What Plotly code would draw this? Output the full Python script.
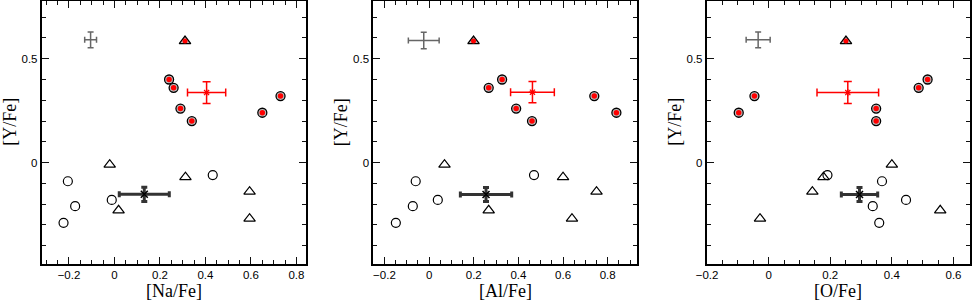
import plotly.graph_objects as go

# ---------------- data ----------------
# red stars : shared [Y/Fe]
red_circ_y = [0.40, 0.36, 0.26, 0.20, 0.24, 0.32]
red_circ_na = [0.24, 0.26, 0.29, 0.34, 0.65, 0.73]
red_circ_al = [0.327, 0.267, 0.39, 0.461, 0.839, 0.74]
red_circ_o = [0.516, 0.487, 0.349, 0.349, -0.097, -0.046]

red_tri_y = [0.585]
red_tri_na = [0.31]
red_tri_al = [0.199]
red_tri_o = [0.251]

open_circ_y = [-0.09, -0.21, -0.29, -0.18, -0.06]
open_circ_na = [-0.205, -0.173, -0.224, -0.012, 0.432]
open_circ_al = [-0.06, -0.073, -0.149, 0.039, 0.47]
open_circ_o = [0.368, 0.338, 0.359, 0.446, 0.191]

open_tri_y = [-0.01, -0.23, -0.07, -0.14, -0.27]
open_tri_na = [-0.021, 0.018, 0.312, 0.594, 0.594]
open_tri_al = [0.069, 0.267, 0.6, 0.75, 0.64]
open_tri_o = [0.4, 0.557, 0.178, 0.142, -0.028]

# mean / error crosses: [x, y, ex, ey]
red_mean = {"na": [0.405, 0.337, 0.084, 0.052],
            "al": [0.463, 0.339, 0.098, 0.051],
            "o": [0.257, 0.337, 0.100, 0.053]}
black_mean = {"na": [0.131, -0.153, 0.110, 0.034],
              "al": [0.255, -0.154, 0.115, 0.034],
              "o": [0.295, -0.154, 0.059, 0.034]}
gray_err = {"na": [-0.105, 0.591, 0.026, 0.038],
            "al": [-0.024, 0.588, 0.069, 0.040],
            "o": [-0.034, 0.591, 0.039, 0.038]}

x_titles = ["[Na/Fe]", "[Al/Fe]", "[O/Fe]"]
y_title = "[Y/Fe]"
x_ranges = [[-0.32, 0.842], [-0.25, 0.93], [-0.201, 0.652]]
y_range = [-0.486, 0.778]
x_tickvals = [[-0.2, 0, 0.2, 0.4, 0.6, 0.8],
              [-0.2, 0, 0.2, 0.4, 0.6, 0.8],
              [-0.2, 0, 0.2, 0.4, 0.6]]
x_ticktext = [["\u22120.2", "0", "0.2", "0.4", "0.6", "0.8"],
              ["\u22120.2", "0", "0.2", "0.4", "0.6", "0.8"],
              ["\u22120.2", "0", "0.2", "0.4", "0.6"]]
y_tickvals = [0, 0.5]
y_ticktext = ["0", "0.5"]

# ---------------- layout geometry (pixels) ----------------
W, H = 972, 304
TOP = 1
frames_px = [(41.7, 306.0), (373.3, 636.7), (706.7, 969.5)]
frame_top, frame_bot = 1.0, 263.5

def px2fx(px):
    return px / W

def py2fy(py):
    return (H - py) / (H - TOP)

RED = "#ff0000"
GRAY = "#666666"
DARK = "#333333"

fig = go.Figure()
keys = ["na", "al", "o"]
xs_rc = [red_circ_na, red_circ_al, red_circ_o]
xs_rt = [red_tri_na, red_tri_al, red_tri_o]
xs_oc = [open_circ_na, open_circ_al, open_circ_o]
xs_ot = [open_tri_na, open_tri_al, open_tri_o]

for i in range(3):
    sfx = "" if i == 0 else str(i + 1)
    xa, ya = "x" + sfx, "y" + sfx
    k = keys[i]
    fig.add_trace(go.Scatter(x=xs_oc[i], y=open_circ_y, mode="markers", xaxis=xa, yaxis=ya,
                             marker=dict(symbol="circle-open", size=9, color="black",
                                         line=dict(width=1.2, color="black")),
                             showlegend=False, hoverinfo="skip"))
    fig.add_trace(go.Scatter(x=xs_ot[i], y=open_tri_y, mode="markers", xaxis=xa, yaxis=ya,
                             marker=dict(symbol="triangle-up-open", size=10, color="black",
                                         line=dict(width=1.2, color="black")),
                             showlegend=False, hoverinfo="skip"))
    fig.add_trace(go.Scatter(x=xs_rc[i], y=red_circ_y, mode="markers", xaxis=xa, yaxis=ya,
                             marker=dict(symbol="circle", size=9, color="#bbbbbb",
                                         line=dict(width=1.3, color="black")),
                             showlegend=False, hoverinfo="skip"))
    fig.add_trace(go.Scatter(x=xs_rc[i], y=red_circ_y, mode="markers", xaxis=xa, yaxis=ya,
                             marker=dict(symbol="circle", size=5.5, color=RED,
                                         line=dict(width=0)),
                             showlegend=False, hoverinfo="skip"))
    fig.add_trace(go.Scatter(x=xs_rt[i], y=red_tri_y, mode="markers", xaxis=xa, yaxis=ya,
                             marker=dict(symbol="triangle-up", size=10, color="#bbbbbb",
                                         line=dict(width=1.3, color="black")),
                             showlegend=False, hoverinfo="skip"))
    fig.add_trace(go.Scatter(x=xs_rt[i], y=red_tri_y, mode="markers", xaxis=xa, yaxis=ya,
                             marker=dict(symbol="circle", size=5, color=RED, line=dict(width=0)),
                             showlegend=False, hoverinfo="skip"))
    g = gray_err[k]
    fig.add_trace(go.Scatter(x=[g[0]], y=[g[1]], mode="markers", xaxis=xa, yaxis=ya,
                             marker=dict(size=1, color=GRAY, opacity=0),
                             error_x=dict(type="data", array=[g[2]], color=GRAY, thickness=1.5, width=3),
                             error_y=dict(type="data", array=[g[3]], color=GRAY, thickness=1.5, width=3),
                             showlegend=False, hoverinfo="skip"))
    b = black_mean[k]
    fig.add_trace(go.Scatter(x=[b[0]], y=[b[1]], mode="markers", xaxis=xa, yaxis=ya,
                             marker=dict(symbol="x-thin", size=7, color="black",
                                         line=dict(width=1.5, color="black")),
                             error_x=dict(type="data", array=[b[2]], color=DARK, thickness=3, width=3),
                             error_y=dict(type="data", array=[b[3]], color=DARK, thickness=3, width=3),
                             showlegend=False, hoverinfo="skip"))
    r = red_mean[k]
    fig.add_trace(go.Scatter(x=[r[0]], y=[r[1]], mode="markers", xaxis=xa, yaxis=ya,
                             marker=dict(symbol="asterisk", size=6, color=RED,
                                         line=dict(width=1.2, color=RED)),
                             error_x=dict(type="data", array=[r[2]], color=RED, thickness=1.5, width=4),
                             error_y=dict(type="data", array=[r[3]], color=RED, thickness=1.5, width=4),
                             showlegend=False, hoverinfo="skip"))

axis_common = dict(showgrid=False, zeroline=False, showline=True, linecolor="black",
                   linewidth=1.8, mirror="allticks", ticks="inside", ticklen=7,
                   tickwidth=1.2, tickcolor="#111111",
                   tickfont=dict(family="Liberation Sans, Arial, sans-serif", size=11.5, color="black"),
                   automargin=False, fixedrange=True)

layout = dict(width=W, height=H, margin=dict(l=0, r=0, t=TOP, b=0),
              paper_bgcolor="white", plot_bgcolor="white", showlegend=False)

annotations = []
for i in range(3):
    sfx = "" if i == 0 else str(i + 1)
    xl, xr = frames_px[i]
    layout["xaxis" + sfx] = dict(axis_common, domain=[px2fx(xl), px2fx(xr)], range=x_ranges[i],
                                 tickmode="array", tickvals=x_tickvals[i], ticktext=x_ticktext[i],
                                 anchor="y" + sfx,
                                 minor=dict(dtick=0.05, tick0=0, ticks="inside", ticklen=4,
                                            tickwidth=1.1, tickcolor="#111111"))
    layout["yaxis" + sfx] = dict(axis_common, domain=[py2fy(frame_bot), py2fy(frame_top)], range=y_range,
                                 tickmode="array", tickvals=y_tickvals, ticktext=y_ticktext,
                                 anchor="x" + sfx,
                                 minor=dict(dtick=0.1, tick0=0, ticks="inside", ticklen=4,
                                            tickwidth=1.1, tickcolor="#111111"))
    annotations.append(dict(text=x_titles[i], xref="paper", yref="paper",
                            x=px2fx((xl + xr) / 2), y=py2fy(291), xanchor="center", yanchor="middle",
                            showarrow=False,
                            font=dict(family="Liberation Serif, Times New Roman, serif", size=18, color="black")))
    annotations.append(dict(text=y_title, xref="paper", yref="paper", textangle=-90,
                            x=px2fx(xl - 32), y=py2fy(122), xanchor="center", yanchor="middle",
                            showarrow=False,
                            font=dict(family="Liberation Serif, Times New Roman, serif", size=18, color="black")))
layout["annotations"] = annotations
fig.update_layout(**layout)

fig.write_html("out.html", config={"displayModeBar": False},
               post_script="document.body.style.margin='0';document.body.style.overflow='hidden';")
